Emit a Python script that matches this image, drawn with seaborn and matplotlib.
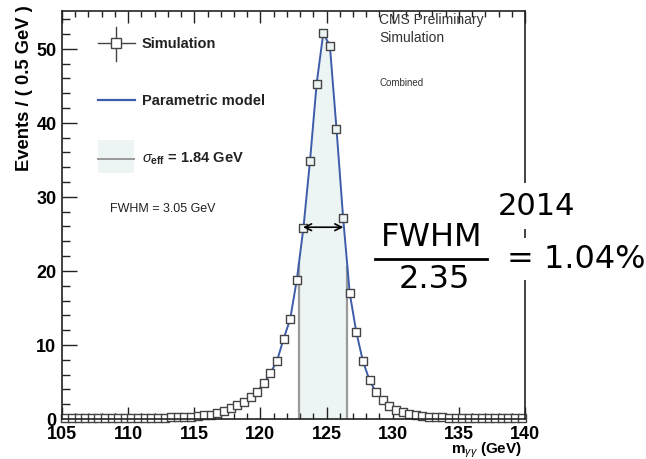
import numpy as np
import pandas as pd
import matplotlib
matplotlib.use("Agg")
import matplotlib.pyplot as plt
from matplotlib.ticker import MultipleLocator
from matplotlib.lines import Line2D
from matplotlib.patches import Rectangle
import seaborn as sns

# ---- data ----
bin_lo, bin_width, n_bins = 105.0, 0.5, 70
mass = bin_lo + bin_width * (np.arange(n_bins) + 0.5)   # bin centres
events = [0.08, 0.08, 0.08, 0.09, 0.09, 0.09, 0.10, 0.10, 0.11, 0.11,
          0.12, 0.13, 0.14, 0.15, 0.17, 0.19, 0.21, 0.24, 0.28, 0.33,
          0.40, 0.48, 0.60, 0.80, 1.10, 1.45, 1.90, 2.35, 2.95, 3.70,
          4.80, 6.20, 7.85, 10.8, 13.5, 18.8, 25.8, 34.9, 45.3, 52.1,
          50.4, 39.2, 27.2, 17.0, 11.7, 7.8, 5.2, 3.6, 2.5, 1.7,
          1.2, 0.9, 0.65, 0.5, 0.4, 0.32, 0.27, 0.23, 0.20, 0.18,
          0.16, 0.15, 0.14, 0.13, 0.12, 0.11, 0.10, 0.10, 0.09, 0.09]
event_err = 0.45
sigma_eff = 1.84
seff_lo, seff_hi = 122.90, 126.58
fwhm = 3.05
fwhm_lo = 123.22
half_max = 25.9

df = pd.DataFrame({"mass": mass, "events": events})

plt.rcParams["font.family"] = ["Liberation Sans", "DejaVu Sans"]
plt.rcParams["mathtext.fontset"] = "custom"
plt.rcParams["mathtext.rm"] = "Liberation Sans"
plt.rcParams["mathtext.it"] = "Liberation Sans:italic"
plt.rcParams["mathtext.bf"] = "Liberation Sans:bold"

fig = plt.figure(figsize=(6.46, 4.60), dpi=100)
ax = fig.add_axes([62 / 646, 1 - 420 / 460, 463 / 646, 408 / 460])

line_col = "#3d5caa"
fill_col = "#edf4f4"
mark_col = "#444444"

# sigma_eff band
xb = df["mass"].to_numpy()
yb = df["events"].to_numpy()
inside = (xb > seff_lo) & (xb < seff_hi)
bx = np.concatenate([[seff_lo], xb[inside], [seff_hi]])
by = np.concatenate([[np.interp(seff_lo, xb, yb)], yb[inside], [np.interp(seff_hi, xb, yb)]])
ax.fill_between(bx, 0, by, color=fill_col, lw=0, zorder=1)
ax.plot([seff_lo, seff_lo], [0, by[0]], color="#9a9a9a", lw=1.6, zorder=2)
ax.plot([seff_hi, seff_hi], [0, by[-1]], color="#9a9a9a", lw=1.6, zorder=2)

# simulation error bars + markers
eb = ax.errorbar(df["mass"], df["events"], xerr=bin_width / 2, yerr=event_err,
                 fmt="none", ecolor=mark_col, elinewidth=0.9, zorder=3)
for art in eb.lines[2]:
    art.set_clip_on(False)
sns.lineplot(data=df, x="mass", y="events", color=line_col, lw=1.4, ax=ax, zorder=4)
sns.scatterplot(data=df[~inside], x="mass", y="events", marker="s", s=30,
                facecolor="white", edgecolor=mark_col, linewidth=1.0, ax=ax, zorder=5,
                clip_on=False)
sns.scatterplot(data=df[inside], x="mass", y="events", marker="s", s=30,
                facecolor=fill_col, edgecolor=mark_col, linewidth=1.0, ax=ax, zorder=5,
                clip_on=False)

# FWHM arrow
ax.annotate("", xy=(fwhm_lo + fwhm, half_max), xytext=(fwhm_lo, half_max),
            arrowprops=dict(arrowstyle="<->", color="black", lw=1.2,
                            shrinkA=0, shrinkB=0, mutation_scale=12), zorder=6)

ax.set_xlim(105, 140)
ax.set_ylim(0, 55.1)

ax.xaxis.set_major_locator(MultipleLocator(5))
ax.xaxis.set_minor_locator(MultipleLocator(1))
ax.yaxis.set_major_locator(MultipleLocator(10))
ax.yaxis.set_minor_locator(MultipleLocator(2))
ax.tick_params(axis="x", which="both", direction="in", top=True, bottom=True,
               labelsize=13, pad=4, width=1.0, color="#222222")
ax.tick_params(axis="x", which="major", length=8.3)
ax.tick_params(axis="x", which="minor", length=4.3)
ax.tick_params(axis="y", which="both", direction="in", left=True, right=False,
               labelsize=13, pad=4, width=1.0, color="#222222")
ax.tick_params(axis="y", which="major", length=11)
ax.tick_params(axis="y", which="minor", length=5.5)
for lab in ax.get_xticklabels() + ax.get_yticklabels():
    lab.set_fontweight("bold")
for sp in ax.spines.values():
    sp.set_linewidth(1.2)
    sp.set_color("#222222")
    sp.set_zorder(6)

ax.set_ylabel("Events / ( 0.5 GeV )", fontsize=13.2, fontweight="bold", loc="top")
ax.yaxis.set_label_coords(-0.062, 1.016)
ax.set_xlabel(r"m$_{\gamma\gamma}$ (GeV)", fontsize=11, fontweight="bold", loc="right")
ax.xaxis.set_label_coords(0.994, -0.0505)

# ---- legend drawn inside the frame ----
T = ax.transAxes
def fx(px):
    return (px - 62) / 463
def fy(py):
    return (420 - py) / 408

ax.add_line(Line2D([fx(116), fx(116)], [fy(28), fy(62)], transform=T, color=mark_col, lw=1.0))
ax.add_line(Line2D([fx(98), fx(135)], [fy(44), fy(44)], transform=T, color=mark_col, lw=1.0))
ax.add_line(Line2D([fx(116)], [fy(44)], transform=T, marker="s", ms=7, mfc="white",
                   mec=mark_col, mew=1.0, lw=0))
ax.text(fx(142), fy(44), "Simulation", transform=T, fontsize=10.5, fontweight="bold",
        va="center", ha="left", color="#222222")

ax.add_line(Line2D([fx(98), fx(135)], [fy(101), fy(101)], transform=T, color=line_col, lw=1.6))
ax.text(fx(142), fy(101), "Parametric model", transform=T, fontsize=10.5, fontweight="bold",
        va="center", ha="left", color="#222222")

ax.add_patch(Rectangle((fx(98), fy(174)), fx(134) - fx(98), fy(141) - fy(174),
                       transform=T, facecolor=fill_col, edgecolor="none"))
ax.add_line(Line2D([fx(98), fx(134)], [fy(160), fy(160)], transform=T, color="#9a9a9a", lw=1.4))
ax.text(fx(142), fy(159), r"$\sigma_{\mathbf{eff}}$ = %.2f GeV" % sigma_eff, transform=T,
        fontsize=10.5, fontweight="bold", va="center", ha="left", color="#222222")

ax.text(fx(110), fy(209), "FWHM = %.2f GeV" % fwhm, transform=T, fontsize=9,
        va="center", ha="left", color="#222222")

ax.text(fx(379), fy(20), "CMS Preliminary", transform=T, fontsize=10, va="center",
        ha="left", color="#333333")
ax.text(fx(379), fy(38), "Simulation", transform=T, fontsize=10, va="center",
        ha="left", color="#333333")
ax.text(fx(379), fy(83), "Combined", transform=T, fontsize=7, va="center",
        ha="left", color="#333333")

# ---- annotation outside ----
hand = ["DejaVu Sans"]
fig.text(537 / 646, 1 - 207 / 460, "2014", fontsize=22, family=hand, ha="center", va="center",
         color="black", bbox=dict(facecolor="white", edgecolor="none", pad=6), zorder=10)
fig.text(432 / 646, 1 - 238 / 460, "FWHM", fontsize=23, family=hand, ha="center", va="center",
         color="black")
fig.add_artist(Line2D([375 / 646, 487 / 646], [1 - 260 / 460, 1 - 260 / 460],
                      color="black", lw=2.0))
fig.text(434 / 646, 1 - 280 / 460, "2.35", fontsize=23, family=hand, ha="center", va="center",
         color="black")
fig.text(507 / 646, 1 - 260 / 460, "= 1.04%", fontsize=23, family=hand, ha="left", va="center",
         color="black", bbox=dict(facecolor="white", edgecolor="none", pad=4), zorder=10)

fig.savefig("out.png", dpi=100)
